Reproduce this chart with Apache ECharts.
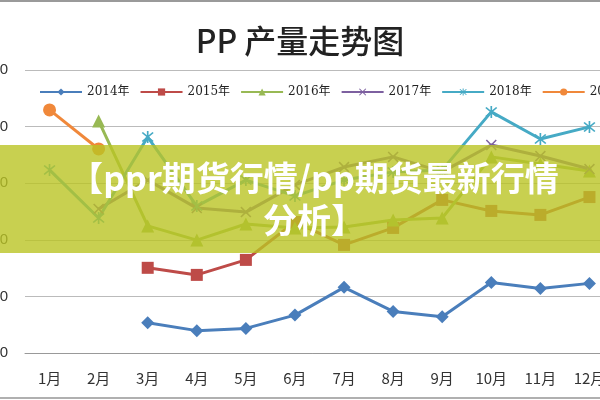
<!DOCTYPE html>
<html>
<head>
<meta charset="utf-8">
<script src="https://cdn.jsdelivr.net/npm/echarts@6/dist/echarts.min.js"></script>
<style>
  html, body { margin: 0; padding: 0; background: #fff; }
  #chart { width: 600px; height: 400px; }
</style>
</head>
<body>
<div id="chart"></div>
<script>
// 数据
const months = ['1月', '2月', '3月', '4月', '5月', '6月', '7月', '8月', '9月', '10月', '11月', '12月'];
const yTicks = { min: 100, max: 200, step: 20 };
const y2014 = [null, null, 110.7, 107.9, 108.7, 113.4, 123.2, 114.7, 112.8, 124.9, 122.8, 124.6];
const y2015 = [null, null, 130.1, 127.6, 132.9, 146.3, 138.2, 144.2, 154.1, 150.2, 148.8, 155.1];
const y2016 = [null, 182.0, 144.9, 139.9, 145.6, 144.2, 144.5, 147.0, 147.7, 169.3, 166.8, 164.3];
const y2017 = [null, 150.9, 161.1, 151.2, 149.8, 159.4, 165.7, 169.3, 164.0, 173.5, 169.6, 165.0];
const y2018 = [164.7, 147.7, 176.3, 151.9, 161.1, 155.5, 161.1, 164.0, 164.7, 185.2, 175.6, 179.9];
const y2019 = [185.9, 172.1, null, null, null, null, null, null, null, null, null, null];

const bannerText = '【ppr期货行情/pp期货最新行情\n分析】';

// 自定义标记
const xMark = 'path://M0,1L1,0L5,4L9,0L10,1L6,5L10,9L9,10L5,6L1,10L0,9L4,5Z';
const starMark = 'path://M0,1L1,0L5,4L9,0L10,1L6,5L10,9L9,10L5,6L1,10L0,9L4,5Z M4.3,-1L5.7,-1L5.7,11L4.3,11Z';

function mkSeries(name, data, color, symbol, size) {
    return {
        name: name,
        type: 'line',
        data: data,
        symbol: symbol,
        symbolSize: size,
        showSymbol: true,
        lineStyle: { width: 3, color: color },
        itemStyle: { color: color },
        emphasis: { disabled: true },
        z: 3
    };
}

const chart = echarts.init(document.getElementById('chart'));
const option = {
    animation: false,
    title: {
        text: 'PP 产量走势图',
        left: 'center',
        top: 20,
        textStyle: {
            fontFamily: 'Noto Sans CJK SC',
            fontSize: 32,
            fontWeight: 500,
            color: '#222'
        }
    },
    legend: {
        left: 34,
        top: 81,
        width: 800,
        itemWidth: 42,
        itemHeight: 9,
        itemGap: 10,
        textStyle: {
            fontFamily: 'DejaVu Serif, Noto Sans CJK SC',
            fontSize: 12,
            color: '#222'
        }
    },
    grid: { left: 25, top: 70, width: 589, height: 283, outerBoundsMode: 'none', containLabel: false },
    xAxis: {
        type: 'category',
        data: months,
        boundaryGap: true,
        axisLine: { lineStyle: { color: '#999', width: 1 } },
        axisTick: { show: false },
        axisLabel: {
            color: '#333',
            fontSize: 15,
            margin: 18,
            fontFamily: 'Noto Sans CJK SC'
        }
    },
    yAxis: {
        type: 'value',
        min: yTicks.min,
        max: yTicks.max,
        interval: yTicks.step,
        axisLine: { show: false },
        axisTick: { show: false },
        axisLabel: { color: '#333', fontSize: 15, margin: 17 },
        splitLine: { lineStyle: { color: '#bbb', width: 1 } }
    },
    series: [
        mkSeries('2014年', y2014, '#4a7ebb', 'diamond', 13),
        mkSeries('2015年', y2015, '#be4b48', 'rect', 12),
        mkSeries('2016年', y2016, '#98b954', 'triangle', 13),
        mkSeries('2017年', y2017, '#7d60a0', xMark, 11),
        mkSeries('2018年', y2018, '#46aac5', starMark, 12),
        mkSeries('2019年', y2019, '#f0883a', 'circle', 13)
    ],
    graphic: [
        { type: 'rect', left: 0, top: 0, shape: { width: 600, height: 2 }, style: { fill: '#9a9a9a' }, z: 100 },
        { type: 'rect', left: 0, top: 397, shape: { width: 600, height: 2 }, style: { fill: '#b0b0b0' }, z: 100 },
        { type: 'rect', left: 0, top: 145, shape: { width: 600, height: 108 }, style: { fill: 'rgba(186,196,36,0.8)' }, z: 100 },
        {
            type: 'text',
            x: 314,
            y: 157,
            z: 101,
            style: {
                text: bannerText,
                fill: '#fff',
                font: 'bold 34px "Noto Sans CJK SC"',
                textAlign: 'center',
                textVerticalAlign: 'top',
                lineHeight: 42,
                shadowColor: 'rgba(0,0,0,0.15)',
                shadowBlur: 2
            }
        }
    ]
};
chart.setOption(option);
</script>
</body>
</html>
